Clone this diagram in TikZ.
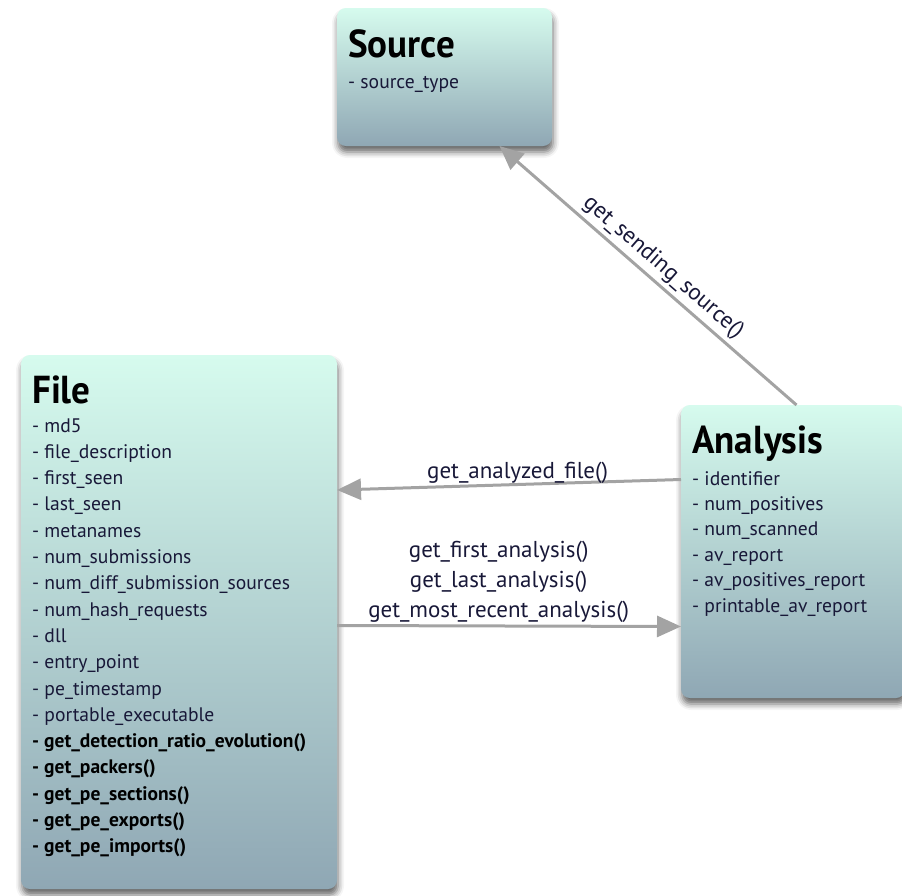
\documentclass[tikz,border=0pt]{standalone}
\usepackage{fontspec}
\setmainfont{PT Sans}
\newfontfamily\titlefont[FakeStretch=0.95]{PT Sans}
\usetikzlibrary{arrows.meta,shadows.blur}

\definecolor{boxtop}{HTML}{D6FBEE}
\definecolor{boxbottom}{HTML}{8FA7B4}
\definecolor{linkgray}{HTML}{A3A3A3}
\definecolor{attrtext}{HTML}{181838}

\tikzset{
  classbox/.style={draw=none, rounded corners=9pt, inner sep=0pt, outer sep=0pt,
    anchor=north west, top color=boxtop, bottom color=boxbottom,
    blur shadow={shadow xshift=1pt, shadow yshift=-6pt, shadow blur radius=6pt, shadow opacity=60}},
  classname/.style={anchor=base west, inner sep=0pt, font=\titlefont\bfseries\fontsize{39}{39}\selectfont},
  attr/.style={anchor=base west, inner sep=0pt, text=attrtext, font=\fontsize{19.6}{22}\selectfont},
  method/.style={attr, text=black, font=\bfseries\fontsize{19.5}{22}\selectfont},
  link/.style={draw=linkgray, line width=3pt, -{Triangle[length=24pt,width=21pt]}},
  linklabel/.style={text=attrtext, font=\fontsize{23}{30}\selectfont, inner sep=1pt}
}

\begin{document}
\begin{tikzpicture}[x=1pt,y=-1pt]
\useasboundingbox (0,0) rectangle (902,895);

% class boxes
\node[classbox, minimum width=215pt, minimum height=138pt] (src) at (337,8) {};
\node[classbox, minimum width=316pt, minimum height=534pt] (file) at (21,355) {};
\node[classbox, minimum width=224pt, minimum height=293pt] (ana) at (681,405) {};

% Source
\node[classname] (srcname) at (348,57) {Source};
\node[attr] (srcattr) at (348,88) {- source\_type};

% File
\node[classname] (filename) at (32,403) {File};
\foreach \t [count=\i] in {md5, file\_description, first\_seen, last\_seen, metanames,
  num\_submissions, num\_diff\_submission\_sources, num\_hash\_requests, dll,
  entry\_point, pe\_timestamp, portable\_executable}
  \node[attr] (fa\i) at (32,{432+(\i-1)*26.3}) {- \t};
\foreach \t [count=\i] in {get\_detection\_ratio\_evolution(), get\_packers(),
  get\_pe\_sections(), get\_pe\_exports(), get\_pe\_imports()}
  \node[method] (fm\i) at (32,{432+(\i+11)*26.3}) {- \t};

% Analysis
\node[classname] (ananame) at (692,453) {Analysis};
\foreach \t [count=\i] in {identifier, num\_positives, num\_scanned, av\_report,
  av\_positives\_report, printable\_av\_report}
  \node[attr] (aa\i) at (692,{485+(\i-1)*25.4}) {- \t};

% associations
\draw[link] ([xshift=3.5pt]ana.north) -- ([xshift=55pt]src.south)
  node[linklabel, midway, sloped, above, inner sep=4pt, xshift=6pt] (lsrc) {get\_sending\_source()};
\draw[link] ([yshift=72pt]ana.west) -- ([yshift=132pt]file.east)
  node[linklabel, pos=0.475, above, inner sep=0pt, yshift=-1pt] (lfile) {get\_analyzed\_file()};
\draw[link] ([yshift=-3.5pt]file.east) -- ([yshift=-75pt]ana.west)
  node[linklabel, pos=0.47, above, align=center, yshift=1pt] (lana)
  {get\_first\_analysis()\\get\_last\_analysis()\\get\_most\_recent\_analysis()};
\end{tikzpicture}
\end{document}
